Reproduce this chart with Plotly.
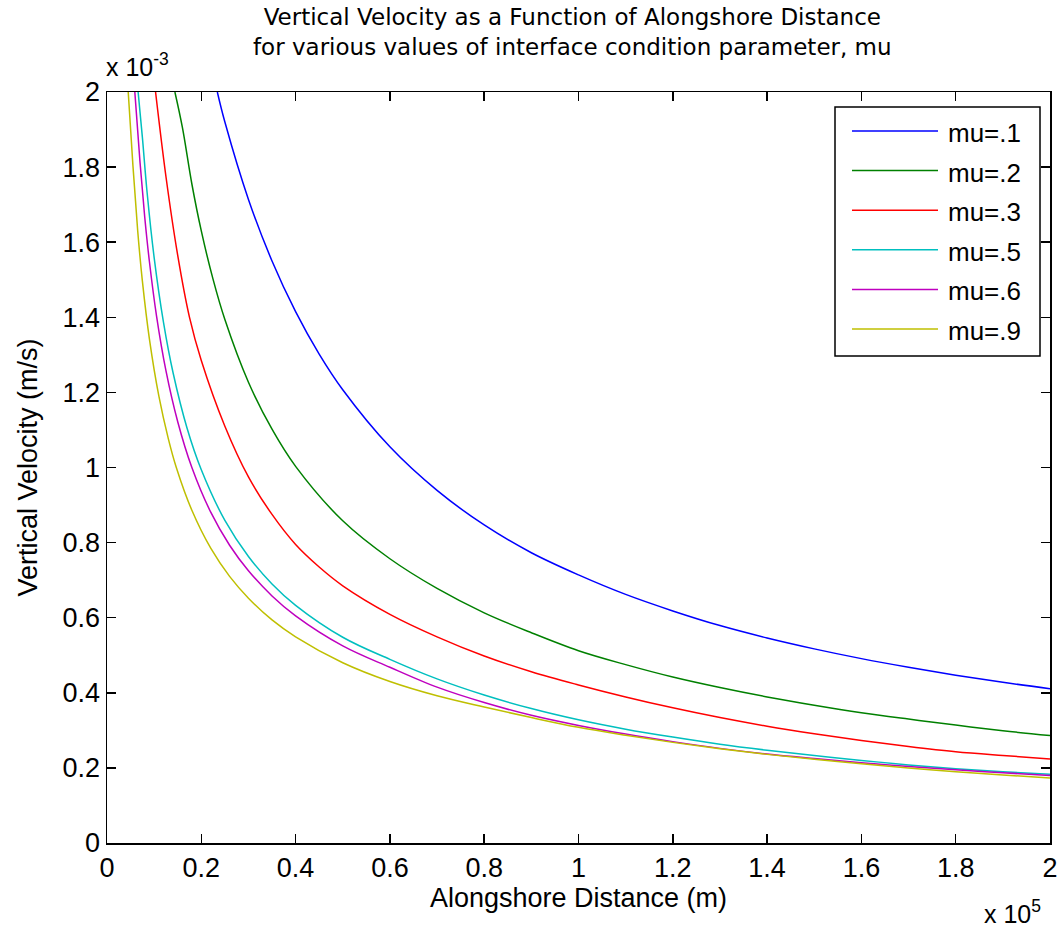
import plotly.graph_objects as go

# Alongshore distance in units of 1e5 m, vertical velocity in units of 1e-3 m/s
series_names = ["mu=.1", "mu=.2", "mu=.3", "mu=.5", "mu=.6", "mu=.9"]
series_colors = ["#0000ff", "#008000", "#ff0000", "#00bfbf", "#bf00bf", "#bfbf00"]

x_mu1 = [0.234, 0.25, 0.3, 0.35, 0.4, 0.45, 0.5, 0.6, 0.7, 0.8, 0.9, 1.0, 1.1, 1.2, 1.3, 1.4, 1.5, 1.6, 1.7, 1.8, 1.9, 2.0]
y_mu1 = [2.0, 1.92, 1.714, 1.55, 1.415, 1.302, 1.207, 1.055, 0.939, 0.847, 0.773, 0.714, 0.662, 0.618, 0.579, 0.546, 0.517, 0.491, 0.468, 0.447, 0.428, 0.411]

x_mu2 = [0.144, 0.16, 0.18, 0.2, 0.225, 0.25, 0.3, 0.35, 0.4, 0.5, 0.6, 0.7, 0.8, 0.9, 1.0, 1.1, 1.2, 1.3, 1.4, 1.5, 1.6, 1.7, 1.8, 1.9, 2.0]
y_mu2 = [2.0, 1.905, 1.755, 1.63, 1.501, 1.394, 1.227, 1.102, 1.003, 0.858, 0.757, 0.678, 0.613, 0.56, 0.512, 0.475, 0.442, 0.414, 0.389, 0.367, 0.347, 0.33, 0.314, 0.299, 0.286]

x_mu3 = [0.103, 0.125, 0.15, 0.175, 0.2, 0.25, 0.3, 0.35, 0.4, 0.45, 0.5, 0.6, 0.7, 0.8, 0.9, 1.0, 1.1, 1.2, 1.3, 1.4, 1.5, 1.6, 1.7, 1.8, 1.9, 2.0]
y_mu3 = [2.0, 1.775, 1.565, 1.40, 1.285, 1.11, 0.975, 0.875, 0.795, 0.735, 0.685, 0.609, 0.549, 0.498, 0.456, 0.421, 0.389, 0.36, 0.334, 0.311, 0.291, 0.273, 0.257, 0.243, 0.233, 0.224]

x_mu5 = [0.066, 0.075, 0.085, 0.1, 0.12, 0.14, 0.17, 0.2, 0.25, 0.3, 0.35, 0.4, 0.5, 0.6, 0.7, 0.8, 0.9, 1.0, 1.1, 1.2, 1.3, 1.4, 1.5, 1.6, 1.7, 1.8, 1.9, 2.0]
y_mu5 = [2.0, 1.88, 1.733, 1.559, 1.385, 1.253, 1.104, 0.994, 0.859, 0.763, 0.69, 0.633, 0.548, 0.489, 0.437, 0.394, 0.358, 0.328, 0.303, 0.282, 0.263, 0.247, 0.233, 0.22, 0.208, 0.198, 0.19, 0.183]

x_mu6 = [0.059, 0.07, 0.08, 0.09, 0.105, 0.125, 0.15, 0.18, 0.22, 0.26, 0.3, 0.35, 0.4, 0.5, 0.6, 0.7, 0.8, 0.9, 1.0, 1.1, 1.2, 1.3, 1.4, 1.5, 1.6, 1.7, 1.8, 1.9, 2.0]
y_mu6 = [2.0, 1.813, 1.667, 1.548, 1.404, 1.258, 1.122, 1.0, 0.881, 0.793, 0.725, 0.658, 0.605, 0.525, 0.468, 0.415, 0.374, 0.34, 0.313, 0.29, 0.27, 0.252, 0.237, 0.225, 0.214, 0.204, 0.195, 0.187, 0.18]

x_mu9 = [0.045, 0.055, 0.065, 0.075, 0.09, 0.11, 0.13, 0.147, 0.18, 0.22, 0.26, 0.3, 0.35, 0.4, 0.5, 0.6, 0.7, 0.8, 0.9, 1.0, 1.1, 1.2, 1.3, 1.4, 1.5, 1.6, 1.7, 1.8, 1.9, 2.0]
y_mu9 = [2.0, 1.804, 1.632, 1.497, 1.342, 1.19, 1.077, 1.0, 0.886, 0.785, 0.71, 0.652, 0.594, 0.549, 0.48, 0.43, 0.392, 0.362, 0.334, 0.308, 0.287, 0.268, 0.251, 0.236, 0.223, 0.211, 0.2, 0.19, 0.181, 0.173]

x_tick_vals = [0, 0.2, 0.4, 0.6, 0.8, 1.0, 1.2, 1.4, 1.6, 1.8, 2.0]
x_tick_text = ["0", "0.2", "0.4", "0.6", "0.8", "1", "1.2", "1.4", "1.6", "1.8", "2"]
y_tick_vals = [0, 0.2, 0.4, 0.6, 0.8, 1.0, 1.2, 1.4, 1.6, 1.8, 2.0]
y_tick_text = ["0", "0.2", "0.4", "0.6", "0.8", "1", "1.2", "1.4", "1.6", "1.8", "2"]

xs = [x_mu1, x_mu2, x_mu3, x_mu5, x_mu6, x_mu9]
ys = [y_mu1, y_mu2, y_mu3, y_mu5, y_mu6, y_mu9]

W, H = 1062, 930
L, R, T, B = 107, 12, 92, 87
PW, PH = W - L - R, H - T - B
FONT = "Liberation Sans, Arial, sans-serif"
TFONT = "DejaVu Sans, Verdana, sans-serif"


def px(xp):
    return (xp - L) / PW


def py(yp):
    return (H - B - yp) / PH


fig = go.Figure()
for name, color, xv, yv in zip(series_names, series_colors, xs, ys):
    fig.add_trace(go.Scatter(x=xv, y=yv, mode="lines", name=name,
                             line=dict(color=color, width=1.5, shape="spline", smoothing=1.0),
                             showlegend=False))

axis_common = dict(showline=True, linecolor="black", linewidth=1.5, mirror="ticks",
                   ticks="inside", ticklen=9, tickwidth=1.5, tickcolor="black",
                   showgrid=False, zeroline=False,
                   tickfont=dict(family=FONT, size=27, color="black"))

fig.update_xaxes(range=[0, 2], tickvals=x_tick_vals, ticktext=x_tick_text,
                 title=dict(text="Alongshore Distance (m)", standoff=0,
                            font=dict(family=FONT, size=27, color="black")),
                 **axis_common)
fig.update_yaxes(range=[0, 2], tickvals=y_tick_vals, ticktext=y_tick_text,
                 title=dict(text="Vertical Velocity (m/s)", standoff=17,
                            font=dict(family=FONT, size=27, color="black")),
                 **axis_common)

annotations = [
    dict(text="Vertical Velocity as a Function of Alongshore Distance<br>"
              "for various values of interface condition parameter, mu",
         x=px(572), y=py(32), xref="paper", yref="paper", showarrow=False,
         xanchor="center", yanchor="middle", align="center",
         font=dict(family=TFONT, size=23, color="black")),
    dict(text="x 10<sup>-3</sup>", x=px(104), y=py(83), xref="paper", yref="paper",
         showarrow=False, xanchor="left", yanchor="bottom",
         font=dict(family=FONT, size=25, color="black")),
    dict(text="x 10<sup>5</sup>", x=px(982), y=py(930), xref="paper", yref="paper",
         showarrow=False, xanchor="left", yanchor="bottom",
         font=dict(family=FONT, size=25, color="black")),
]

shapes = [dict(type="rect", xref="paper", yref="paper", x0=px(835), x1=px(1040),
               y0=py(356), y1=py(107), line=dict(color="black", width=1.5),
               fillcolor="white", layer="above")]
for i, (name, color) in enumerate(zip(series_names, series_colors)):
    yl = 131 + 39.6 * i
    shapes.append(dict(type="line", xref="paper", yref="paper", x0=px(852), x1=px(938),
                       y0=py(yl), y1=py(yl), line=dict(color=color, width=1.5), layer="above"))
    annotations.append(dict(text=name, x=px(946), y=py(yl + 2), xref="paper", yref="paper",
                            showarrow=False, xanchor="left", yanchor="middle",
                            font=dict(family=FONT, size=26, color="black")))

fig.update_layout(width=W, height=H, margin=dict(l=L, r=R, t=T, b=B, autoexpand=False),
                  paper_bgcolor="white", plot_bgcolor="white", hovermode=False,
                  annotations=annotations, shapes=shapes, showlegend=False)

fig.write_html("out.html", config={"displayModeBar": False, "staticPlot": True},
               post_script="document.body.style.margin='0px';document.body.style.overflow='hidden';")
